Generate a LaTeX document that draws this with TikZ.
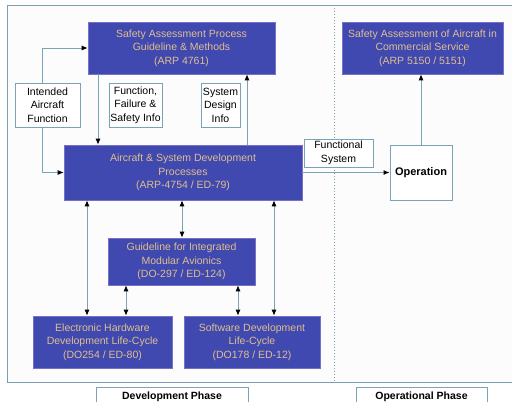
\documentclass[tikz,border=0pt]{standalone}
\usepackage{fontspec}
\setmainfont{Liberation Sans}
\usetikzlibrary{arrows.meta}
\definecolor{boxblue}{HTML}{3F49B0}
\definecolor{boxtext}{HTML}{E2BE8C}
\definecolor{linec}{HTML}{7AA3B8}
\definecolor{bluebord}{HTML}{7670C8}
\tikzset{
  bluebox/.style={draw=bluebord, line width=0.6pt, fill=boxblue, text=boxtext, align=center, inner sep=0pt,
    font=\fontsize{10.5}{13.5}\selectfont},
  whitebox/.style={draw=linec, line width=0.8pt, fill=white, text=black, align=center, inner sep=0pt,
    font=\fontsize{10.5}{13.5}\selectfont},
  conn/.style={draw=linec, line width=0.9pt, -{Latex[length=6pt,width=5pt,color=black]}},
  dconn/.style={draw=linec, line width=0.9pt, {Latex[length=6pt,width=5pt,color=black]}-{Latex[length=6pt,width=5pt,color=black]}},
}
\begin{document}
\begin{tikzpicture}[x=1pt,y=-1pt]
\useasboundingbox (0,0) rectangle (512,402);
% frame
\draw[linec!90!gray, line width=0.8pt, fill=gray!2] (7,5) -- (515,5) -- (515,382) -- (7,382) -- cycle;
\draw[linec, line width=1pt, dotted] (334,5) -- (334,382);

% nodes
\node[bluebox, minimum width=187pt, minimum height=52pt] (sap) at (181.5,48) {Safety Assessment Process\\Guideline \& Methods\\(ARP 4761)};
\node[whitebox, minimum width=65pt, minimum height=44pt] (iaf) at (47.5,105) {Intended\\Aircraft\\Function};
\node[whitebox, minimum width=53pt, minimum height=44pt] (ffs) at (135.5,105) {Function,\\Failure \&\\Safety Info};
\node[whitebox, minimum width=39pt, minimum height=44pt] (sdi) at (220.5,105) {System\\Design\\Info};
\node[bluebox, minimum width=238pt, minimum height=55pt] (asd) at (183,172.5) {Aircraft \& System Development\\Processes\\(ARP-4754 / ED-79)};
\node[whitebox, minimum width=69pt, minimum height=28pt] (fs) at (338.5,153) {Functional\\System};
\node[whitebox, minimum width=62pt, minimum height=55pt, font=\fontsize{11}{13.5}\selectfont\bfseries] (op) at (421,172.5) {Operation};
\node[bluebox, minimum width=161pt, minimum height=52pt] (sac) at (422.5,48) {Safety Assessment of Aircraft in\\Commercial Service\\(ARP 5150 / 5151)};
\node[bluebox, minimum width=147pt, minimum height=47pt] (ima) at (181.5,261.5) {Guideline for Integrated\\Modular Avionics\\(DO-297 / ED-124)};
\node[bluebox, minimum width=139pt, minimum height=52pt] (ehw) at (102.5,342) {Electronic Hardware\\Development Life-Cycle\\(DO254 / ED-80)};
\node[bluebox, minimum width=136pt, minimum height=52pt] (sw) at (252,342) {Software Development\\Life-Cycle\\(DO178 / ED-12)};
\node[whitebox, minimum width=152pt, minimum height=18pt, font=\fontsize{10.5}{12}\selectfont\bfseries, text depth=0pt] (devp) at (172,396) {Development Phase};
\node[whitebox, minimum width=131pt, minimum height=18pt, font=\fontsize{10.5}{12}\selectfont\bfseries, text depth=0pt] (opp) at (421.5,396) {Operational Phase};

% x positions for vertical connectors
\coordinate (xa) at (42,0);
\coordinate (xb) at (98,0);
\coordinate (xc) at (247,0);
\coordinate (xd) at (87,0);
\coordinate (xe) at (182,0);
\coordinate (xf) at (274,0);
\coordinate (xg) at (126,0);
\coordinate (xh) at (238,0);

% connectors
\draw[conn] (iaf.north -| xa) |- (sap.west);
\draw[conn] (iaf.south -| xa) |- (asd.west);
\draw[conn] (sap.south -| xb) -- (asd.north -| xb);
\draw[conn] (asd.north -| xc) -- (sap.south -| xc);
\draw[conn] (asd.east) -- (op.west);
\draw[conn] (op.north) -- (op.north |- sac.south);
\draw[dconn] (asd.south -| xd) -- (ehw.north -| xd);
\draw[dconn] (asd.south -| xe) -- (ima.north -| xe);
\draw[dconn] (asd.south -| xf) -- (sw.north -| xf);
\draw[dconn] (ima.south -| xg) -- (ehw.north -| xg);
\draw[dconn] (ima.south -| xh) -- (sw.north -| xh);
\end{tikzpicture}
\end{document}
